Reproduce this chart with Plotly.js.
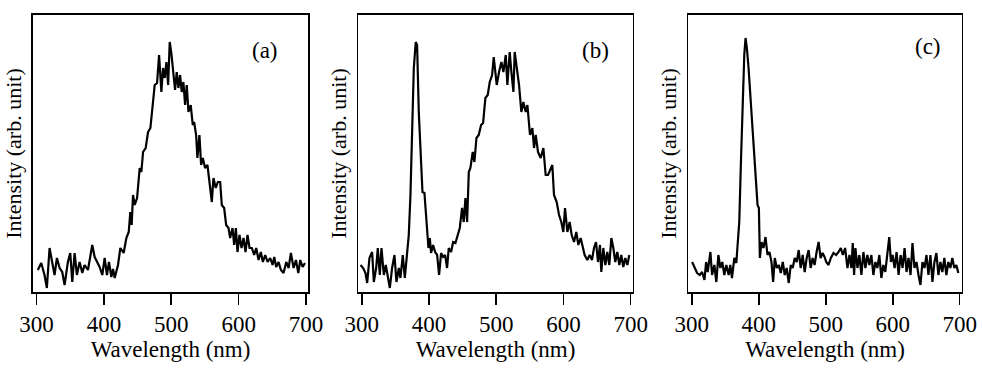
<!DOCTYPE html>
<html>
<head>
<meta charset="utf-8">
<script src="https://cdn.plot.ly/plotly-3.0.1.min.js"></script>
<style>html,body{margin:0;padding:0;background:#fff;}#chart{width:982px;height:372px;}</style>
</head>
<body>
<div id="chart"></div>
<script>
// Panel (a)
const waveA = [
301.9,306.9,311.8,315.3,319.3,323.3,326.7,330.2,334.2,338.1,
341.6,346.5,350,353,356.5,359.9,363.9,367.9,371.3,376.3,
382.7,386.2,389.7,393.6,397.6,401.1,404.5,407.5,411,413.5,
416,420.9,424.4,429.3,433.3,436.8,439.2,441.2,443.2,445.7,
449.2,453.1,455.6,458.1,462,465.5,469,473,475.4,478.9,
481.9,485.3,487.8,490.3,492.8,495.3,497.7,500.2,502.2,505.6,
508.1,510.6,513.1,515.5,518,520.5,523,525.5,528.9,531.9,
533.9,536.9,538.8,541.8,544.3,546.8,550.2,553.7,556.7,560.2,
562.6,566.1,569.1,572.6,575,578.5,581.5,585,587.4,590.9,
593.4,595.9,598.3,601.3,604.3,607.3,610.2,613.2,616.2,619.6,
623.1,626.1,629.6,633,636,639.5,643,646.9,650.4,652.9,
655.8,659.3,662.8,666.7,670.7,674.2,677.6,681.6,685.1,688.6,
691.5,695,698.5];
const intA = [
22,29,17,4,44,27,17,34,24,20,
7,30,39,10,39,17,30,19,27,22,
47,35,30,25,17,34,17,30,15,23,
14,27,44,39,54,60,80,67,97,87,
94,124,120,140,144,160,164,190,207,209,
237,200,224,214,230,207,250,238,224,202,
220,204,217,200,210,187,207,180,187,167,
170,157,134,157,127,134,124,127,110,90,
114,104,110,110,87,84,67,64,54,64,
47,64,40,57,44,54,40,57,44,44,
37,44,32,40,30,37,30,34,27,35,
25,30,22,19,30,24,39,24,32,19,
32,25,29];

// Panel (b)
const waveB = [
298,301.9,305.4,307.9,311.3,315.3,317.8,321.3,323.7,326.7,
329.2,332.7,335.6,338.6,341.6,345,348.5,351.5,355,357.4,
360.9,363.9,367.4,369.8,372.3,374.8,377.3,380.2,382.2,384.7,
387.2,390.2,393.1,396.1,399.1,401.1,403,406,409,412,
414.9,417.9,420.9,423.9,426.8,429.3,432.8,435.8,439.2,442.7,
445.7,449.1,451.6,454.1,456.6,459.1,461.5,465,467.5,470.5,
473.9,477.4,480.4,483.8,487.3,490.3,493.8,496.2,500.7,504.1,
507.6,510.6,514.1,516.5,520,522.5,525.5,527.4,530.4,533.9,
537.3,540.3,543.8,546.3,550.2,553.7,556.2,558.7,562.1,566.1,
570.1,573.5,577,581,583.4,585.9,589.9,593.4,596.8,599.8,
602.3,605.8,609.2,612.2,615.7,619.1,622.1,625.6,628.6,631.5,
635.5,639,642.4,645.4,648.4,651.4,654.3,656.3,659.3,662.3,
665.2,668.2,671.2,674.2,677.1,680.1,683.1,686.1,689,692,
695,698];
const intB = [
27,24,19,9,34,40,10,24,44,17,
44,17,27,17,4,24,37,10,24,14,
37,14,40,57,97,157,224,250,247,180,
147,100,99,70,44,54,39,47,40,37,
17,39,35,37,24,44,40,50,49,57,
64,84,70,94,70,120,124,140,130,154,
157,167,169,194,197,210,217,235,207,220,
230,220,237,207,240,220,200,240,227,207,
180,190,180,187,157,164,144,157,140,134,
144,117,117,124,127,97,90,77,70,60,
84,60,70,57,50,60,47,54,44,37,
32,37,32,44,50,30,47,20,44,27,
40,27,54,44,30,40,27,37,25,34,
27,37];

// Panel (c)
const waveC = [
300.4,303.9,307.9,311.8,315.3,318.8,321.3,323.7,327.7,330.2,
333.6,336.6,339.6,342.6,345.5,348.5,351.5,355,357.4,359.9,
363.4,366.4,368.3,370.8,373.3,375.8,378.3,380.2,382.2,384.7,
387.2,389.7,392.1,394.6,396.1,398.1,400.1,401.6,404,407,
410,413,415.9,418.9,421.4,423.9,426.8,429.8,432.8,435.8,
438.7,441.7,444.7,447.7,450.6,453.6,456.6,459.6,462.5,465.5,
468.5,471.5,474.4,477.4,480.4,483.3,486.3,489.3,492.3,495.2,
498.2,500.7,504.1,507.6,511.6,515.5,519.1,522.5,525.5,528.9,
532.4,535.4,538.3,540.3,542.3,544.3,547.3,550.2,553.2,556.2,
559.2,562.1,565.1,568.1,571.1,574,577,580,583,585.9,
588.9,591.9,594.8,597.3,599.8,602.8,605.8,608.7,611.7,614.7,
617.7,620.6,623.6,626.6,629.5,632.5,635.5,638.5,641.4,644.4,
647.4,650.4,653.3,656.3,659.3,662.3,665.2,668.2,671.2,674.1,
677.1,680.1,683.1,686.1,689,692,695,698];
const intC = [
30,24,19,17,20,12,30,20,40,17,
27,10,37,24,30,17,27,17,27,14,
34,29,44,70,130,190,237,254,244,224,
197,174,147,114,102,87,84,34,50,44,
55,37,40,30,10,34,24,27,19,30,
17,24,9,27,24,34,30,42,24,37,
20,34,42,24,34,27,40,50,34,39,
35,30,27,34,39,37,40,44,37,44,
24,37,24,49,17,44,24,37,17,40,
24,37,27,37,17,30,24,37,14,27,
20,40,55,30,37,24,40,17,37,24,
44,20,34,17,49,24,30,17,7,30,
24,37,17,37,10,30,39,17,30,20,
34,17,30,24,34,24,27,19];

const tickVals = [300, 400, 500, 600, 700];
const tickText = ["300", "400", "500", "600", "700"];
const panelLabels = ["(a)", "(b)", "(c)"];
const xTitle = "Wavelength (nm)";
const yTitle = "Intensity (arb. unit)";

const FONT = "'Liberation Serif', 'Times New Roman', Times, serif";
const lineStyle = {color: "#000", width: 2.2};

function tr(x, y, i) {
  const s = i === 0 ? "" : String(i + 1);
  return {x: x, y: y, type: "scatter", mode: "lines", line: lineStyle,
          xaxis: "x" + s, yaxis: "y" + s, showlegend: false, hoverinfo: "skip"};
}
const data = [tr(waveA, intA, 0), tr(waveB, intB, 1), tr(waveC, intC, 2)];

const W = 982, H = 372;
const xDom = [[33, 308], [358.3, 632.7], [688.3, 961.7]];
const yTop = 15, yBot = 292;
const yDom = [(H - yBot) / H, (H - yTop) / H];

function xa(i) {
  return {
    domain: [xDom[i][0] / W, xDom[i][1] / W],
    range: [294.7, 703],
    anchor: i === 0 ? "y" : "y" + (i + 1),
    showline: true, mirror: true, linecolor: "#000", linewidth: 1.6,
    showgrid: false, zeroline: false,
    ticks: "outside", ticklen: 11, tickwidth: 1.6, tickcolor: "#000",
    tickmode: "array", tickvals: tickVals, ticktext: tickText,
    tickfont: {family: FONT, size: 23, color: "#000"},
    title: {text: xTitle, font: {family: FONT, size: 23, color: "#000"}, standoff: 1},
    automargin: false
  };
}
function ya(i) {
  return {
    domain: yDom,
    range: [0, 277],
    anchor: i === 0 ? "x" : "x" + (i + 1),
    showline: true, mirror: true, linecolor: "#000", linewidth: 1.6,
    showgrid: false, zeroline: false, ticks: "", showticklabels: false,
    title: {text: yTitle, font: {family: FONT, size: 22, color: "#000"}, standoff: 4},
    automargin: false
  };
}

const labelPos = [[265, 50], [595.5, 50], [928, 46]];
const annotations = panelLabels.map(function (t, i) {
  return {
    text: t, showarrow: false,
    xref: "paper", yref: "paper",
    x: labelPos[i][0] / W, y: (H - labelPos[i][1]) / H,
    xanchor: "center", yanchor: "middle",
    font: {family: FONT, size: 23, color: "#000"}
  };
});

const layout = {
  width: W, height: H,
  margin: {l: 0, r: 0, t: 0, b: 0},
  paper_bgcolor: "#fff", plot_bgcolor: "#fff",
  showlegend: false,
  xaxis: xa(0), yaxis: ya(0),
  xaxis2: xa(1), yaxis2: ya(1),
  xaxis3: xa(2), yaxis3: ya(2),
  annotations: annotations
};

Plotly.newPlot("chart", data, layout, {staticPlot: true, displayModeBar: false});
</script>
</body>
</html>
